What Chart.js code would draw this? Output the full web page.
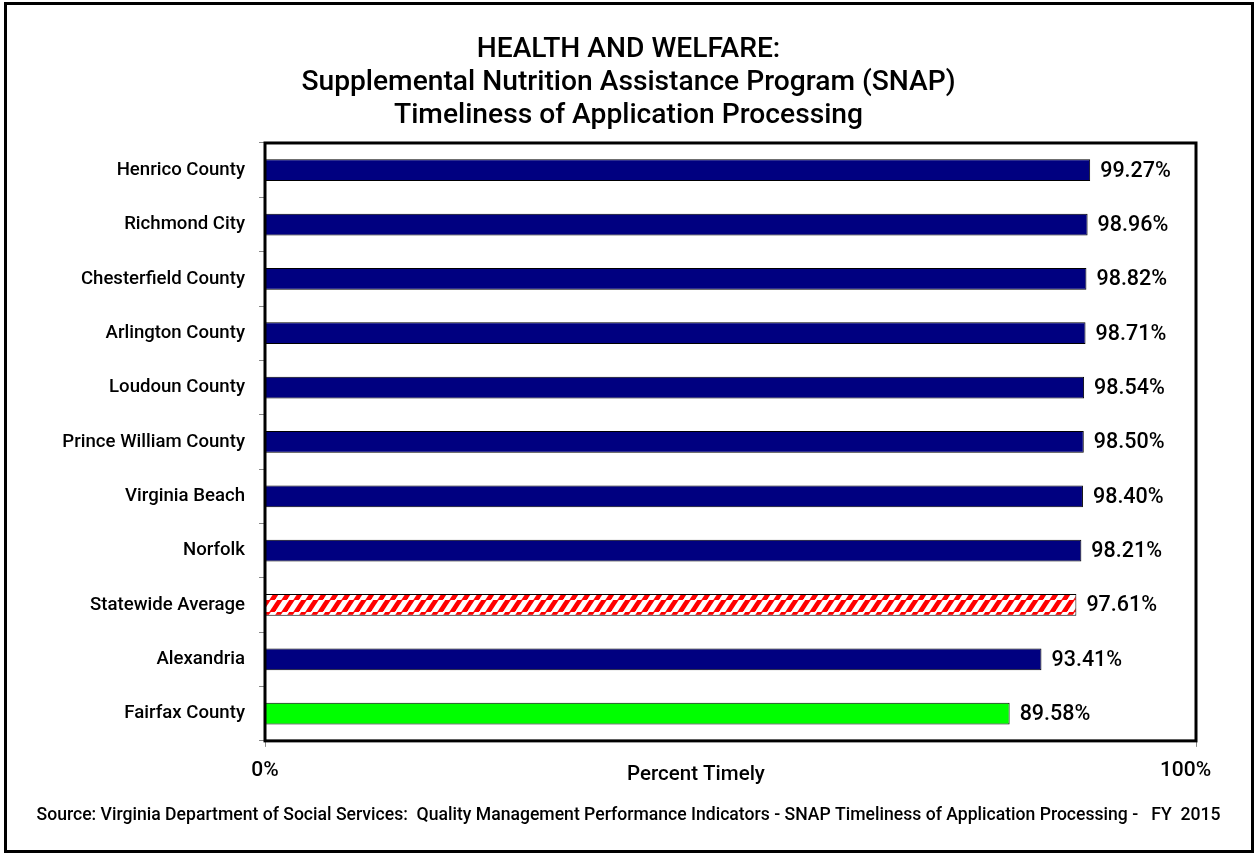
<!DOCTYPE html>
<html>
<head>
<meta charset="utf-8">
<script src="https://cdn.jsdelivr.net/npm/chart.js@4.4.1/dist/chart.umd.min.js"></script>
<style>
  html, body { margin: 0; padding: 0; background: #fff; }
  #wrap { position: absolute; left: 0; top: 0; width: 1257px; height: 854px; }
</style>
</head>
<body>
<div id="wrap"><canvas id="c" width="1257" height="854"></canvas></div>
<script>
const titleLines = [
  'HEALTH AND WELFARE:',
  'Supplemental Nutrition Assistance Program (SNAP)',
  'Timeliness of Application Processing'
];
const categories = [
  'Henrico County', 'Richmond City', 'Chesterfield County', 'Arlington County',
  'Loudoun County', 'Prince William County', 'Virginia Beach', 'Norfolk',
  'Statewide Average', 'Alexandria', 'Fairfax County'
];
const values = [99.27, 98.96, 98.82, 98.71, 98.54, 98.50, 98.40, 98.21, 97.61, 93.41, 89.58];
const valueLabels = ['99.27%', '98.96%', '98.82%', '98.71%', '98.54%', '98.50%', '98.40%', '98.21%', '97.61%', '93.41%', '89.58%'];
const xTickValues = [0, 112];
const xTickLabels = ['0%', '100%'];
const axisTitle = 'Percent Timely';
const sourceText = 'Source: Virginia Department of Social Services:  Quality Management Performance Indicators - SNAP Timeliness of Application Processing -   FY  2015';

function makeHatch() {
  const s = 12;
  const pc = document.createElement('canvas');
  pc.width = s; pc.height = s;
  const p = pc.getContext('2d');
  p.fillStyle = '#ffffff';
  p.fillRect(0, 0, s, s);
  p.strokeStyle = '#ff0000';
  p.lineWidth = 4.6;
  for (let c = -s; c <= 2 * s; c += s) {
    p.beginPath();
    p.moveTo(c + s, -s);
    p.lineTo(c - s, 2 * s);
    p.stroke();
  }
  return document.getElementById('c').getContext('2d').createPattern(pc, 'repeat');
}
const hatch = makeHatch();

const barColors = categories.map(c =>
  c === 'Statewide Average' ? hatch : (c === 'Fairfax County' ? '#00ff00' : '#000080'));

const framePlugin = {
  id: 'frame',
  beforeDraw(chart) {
    const ctx = chart.ctx;
    ctx.save();
    ctx.fillStyle = '#fff';
    ctx.fillRect(0, 0, chart.width, chart.height);
    ctx.strokeStyle = '#000';
    ctx.lineWidth = 3;
    ctx.strokeRect(5.5, 3.5, 1247, 848);
    ctx.restore();
  },
  afterDatasetsDraw(chart) {
    const ctx = chart.ctx;
    const a = chart.chartArea;
    ctx.save();
    ctx.strokeStyle = '#000';
    ctx.lineWidth = 3;
    ctx.strokeRect(a.left, a.top, a.right - a.left, a.bottom - a.top);
    // value labels
    ctx.fillStyle = '#000';
    ctx.font = '500 21.5px Roboto';
    ctx.textAlign = 'left';
    ctx.textBaseline = 'middle';
    const meta = chart.getDatasetMeta(0);
    meta.data.forEach((bar, i) => {
      ctx.fillText(valueLabels[i], bar.x + 10, bar.y + 1);
    });
    // axis title
    ctx.font = '500 20.5px Roboto';
    ctx.textAlign = 'center';
    ctx.fillText(axisTitle, 696, 775);
    ctx.restore();
  }
};

new Chart(document.getElementById('c'), {
  type: 'bar',
  data: {
    labels: categories,
    datasets: [{
      data: values,
      backgroundColor: barColors,
      borderColor: '#000',
      borderWidth: 1,
      categoryPercentage: 0.4,
      barPercentage: 1
    }]
  },
  options: {
    indexAxis: 'y',
    responsive: false,
    animation: false,
    devicePixelRatio: 1,
    layout: { padding: { left: 35, right: 35, top: 13, bottom: 28 } },
    plugins: {
      legend: { display: false },
      tooltip: { enabled: false },
      title: {
        display: true,
        text: titleLines,
        color: '#000',
        font: { family: 'Roboto', size: 28.2, weight: '500', lineHeight: 1.17 },
        padding: { top: 20, bottom: 11 }
      },
      subtitle: {
        display: true,
        position: 'bottom',
        text: sourceText,
        color: '#000',
        font: { family: 'Roboto', size: 17.6, weight: '500', lineHeight: 1.2 },
        padding: { top: 0, bottom: 0 }
      }
    },
    scales: {
      x: {
        type: 'linear',
        min: 0,
        max: 112,
        afterBuildTicks(scale) { scale.ticks = xTickValues.map(v => ({ value: v })); },
        afterFit(scale) { scale.height = 64; },
        ticks: {
          color: '#000',
          font: { family: 'Roboto', size: 21, weight: '500' },
          padding: 11,
          maxRotation: 0,
          autoSkip: false,
          callback: (v, i) => (i === xTickValues.length - 1 ? xTickLabels[i] + '    ' : xTickLabels[i])
        },
        grid: { display: true, drawOnChartArea: false, drawTicks: true, tickLength: 6, color: '#888' },
        border: { display: false }
      },
      y: {
        afterFit(scale) { scale.width = 230; },
        ticks: {
          color: '#000',
          font: { family: 'Roboto', size: 18.6, weight: '500' },
          padding: 14,
          autoSkip: false
        },
        grid: { display: true, drawOnChartArea: false, drawTicks: true, tickLength: 6, color: '#888', offset: true },
        border: { display: false }
      },
      yRight: {
        type: 'category',
        position: 'right',
        display: true,
        afterFit(scale) { scale.width = 26; },
        ticks: { display: false },
        grid: { display: false, drawTicks: false },
        border: { display: false }
      }
    }
  },
  plugins: [framePlugin]
});
</script>
</body>
</html>
